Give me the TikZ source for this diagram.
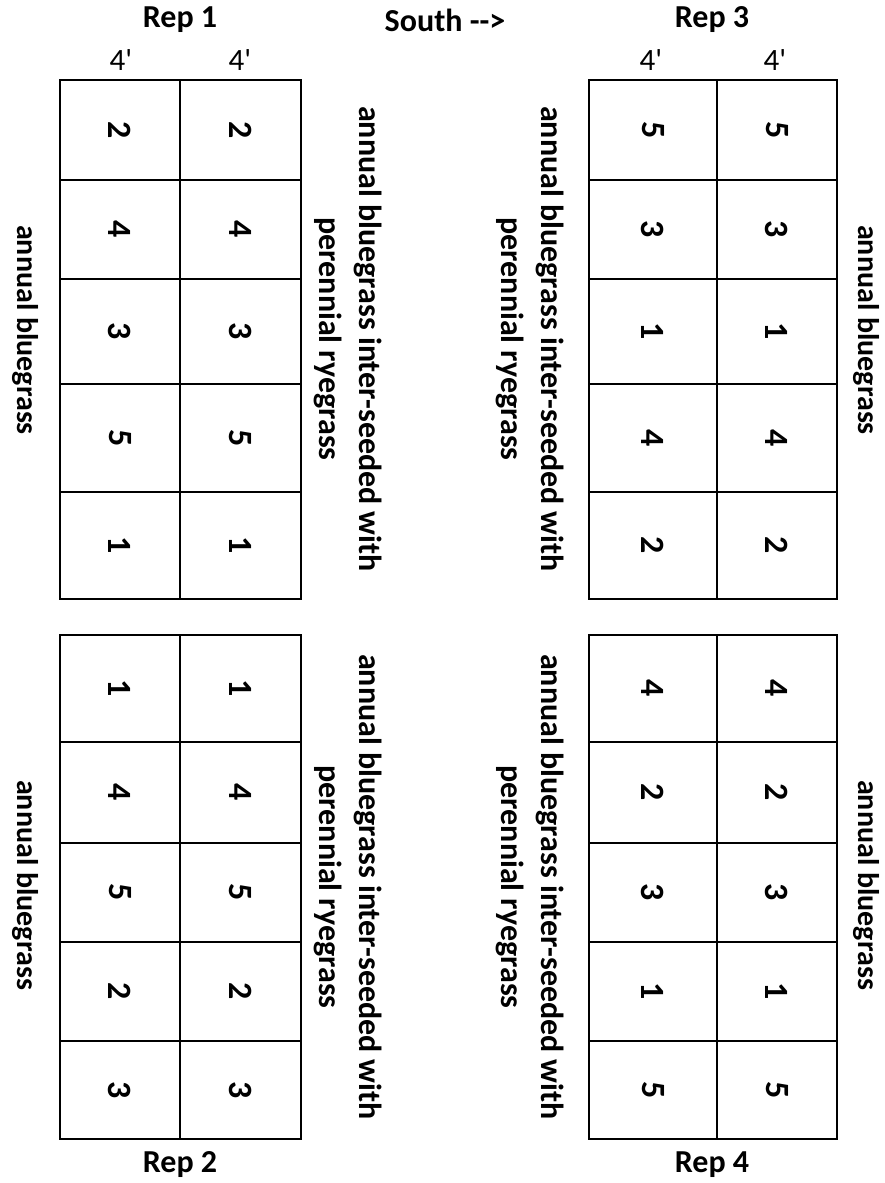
\documentclass[tikz,border=0pt]{standalone}
\usepackage{fontspec}
\newfontfamily\carl{Carlito}
\begin{document}
\begin{tikzpicture}[x=1pt,y=-1pt,
  gridline/.style={line width=1.8pt},
  num/.style={font=\carl\fontsize{34}{40}\selectfont\bfseries, rotate=-90, inner sep=0pt},
  lbl/.style={font=\carl\fontsize{32}{38}\selectfont\bfseries, inner sep=0pt},
  ft/.style={font=\carl\fontsize{31}{36}\selectfont, inner sep=0pt},
  side/.style={font=\carl\fontsize{32}{40}\selectfont\bfseries, rotate=-90, align=center, inner sep=0pt},
  sidea/.style={font=\carl\fontsize{30}{36}\selectfont\bfseries, rotate=-90, inner sep=0pt}
]
\useasboundingbox (0,0) rectangle (885,1183);
% Rep 1
\foreach \ya/\yb/\n [count=\i] in {80/180/2,180/279/4,279/384/3,384/492/5,492/599/1} {
  \draw[gridline] (60,\ya) rectangle (180,\yb);
  \draw[gridline] (180,\ya) rectangle (301,\yb);
  \node[num] (ra\i l) at (120,{(\ya+\yb)/2}) {\n};
  \node[num] (ra\i r) at (240.5,{(\ya+\yb)/2}) {\n};
}
% Rep 2
\foreach \ya/\yb/\n [count=\i] in {635/742/1,742/843/4,843/942/5,942/1041/2,1041/1139/3} {
  \draw[gridline] (60,\ya) rectangle (180,\yb);
  \draw[gridline] (180,\ya) rectangle (301,\yb);
  \node[num] (rb\i l) at (120,{(\ya+\yb)/2}) {\n};
  \node[num] (rb\i r) at (240.5,{(\ya+\yb)/2}) {\n};
}
% Rep 3
\foreach \ya/\yb/\n [count=\i] in {80/180/5,180/279/3,279/384/1,384/492/4,492/599/2} {
  \draw[gridline] (589,\ya) rectangle (717,\yb);
  \draw[gridline] (717,\ya) rectangle (837,\yb);
  \node[num] (rc\i l) at (653,{(\ya+\yb)/2}) {\n};
  \node[num] (rc\i r) at (777,{(\ya+\yb)/2}) {\n};
}
% Rep 4
\foreach \ya/\yb/\n [count=\i] in {635/742/4,742/843/2,843/942/3,942/1041/1,1041/1139/5} {
  \draw[gridline] (589,\ya) rectangle (717,\yb);
  \draw[gridline] (717,\ya) rectangle (837,\yb);
  \node[num] (rd\i l) at (653,{(\ya+\yb)/2}) {\n};
  \node[num] (rd\i r) at (777,{(\ya+\yb)/2}) {\n};
}
% headings
\node[lbl] (rep1) at (180,20) {Rep 1};
\node[lbl] (south) at (445,20) {South -->};
\node[lbl] (rep3) at (712,20) {Rep 3};
\node[lbl] (rep2) at (180,1165) {Rep 2};
\node[lbl] (rep4) at (712,1165) {Rep 4};
\node[ft] (w1) at (121,60) {4'};
\node[ft] (w2) at (240,60) {4'};
\node[ft] (w3) at (651,60) {4'};
\node[ft] (w4) at (775,60) {4'};
% side labels
\node[sidea] (ab1) at (25,330) {annual bluegrass};
\node[side] (ib1) at (348,339) {annual bluegrass inter-seeded with\\perennial ryegrass};
\node[sidea] (ab2) at (25,885) {annual bluegrass};
\node[side] (ib2) at (348,887) {annual bluegrass inter-seeded with\\perennial ryegrass};
\node[side] (ib3) at (530,339) {annual bluegrass inter-seeded with\\perennial ryegrass};
\node[sidea] (ab3) at (866,330) {annual bluegrass};
\node[side] (ib4) at (530,887) {annual bluegrass inter-seeded with\\perennial ryegrass};
\node[sidea] (ab4) at (866,885) {annual bluegrass};
\end{tikzpicture}
\end{document}
